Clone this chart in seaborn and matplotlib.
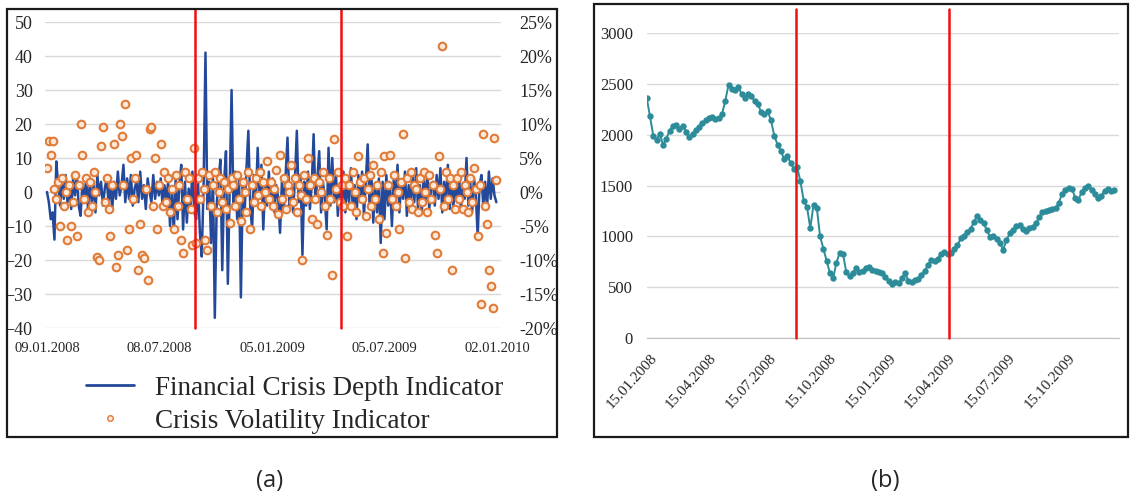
import matplotlib.pyplot as plt
import matplotlib.dates as mdates
import matplotlib.patches as patches
from matplotlib.lines import Line2D
import pandas as pd
import seaborn as sns

# (a) crisis indicators, one reading every 3 days starting 09.01.2008
depth = [0, -3, -8, -6, -14, 9, 2, -4, 3, -2, 5, -3, 1, -5, 4, -1, 5, -4, -7, 2,
         -2, 4, -5, 3, -3, 2, -6, 5, -1, 3, -4, 1, 4, -3, 2, -5, 3, -2, 6, -1,
         2, 8, -3, 4, -2, 5, -4, 1, 3, -3, 6, -2, 2, -5, 4, 0, -3, 5, -2, 3,
         -1, 4, -4, 2, -2, 3, -10, 1, -12, 4, -8, 2, 8, -11, 3, -9, 1, -4, 6, -6,
         -8, 3, -12, -19, 2, 41, -5, 3, -15, 5, -37, -4, 4, 9.5, -23, 3, 12, -27, 2, 30,
         -5, 6, -8, 4, -31, 2, -6, 7, 18, -4, -11, 5, -3, 13, -2, 8, -11, 3, -4, 6,
         -3, 4, -6, 2, -2, -12, 3, -5, 5, 16, -4, 2, -6, 4, 18, -3, 5, -18.5, 3, -4,
         6, -5, 2, 17, -3, 4, 12, -6, 3, -2, -11, 13, -4, 10, -3, 5, -7, 2, -4, 6,
         -6, 4, -3, 7, -5, 2, -8, 5, -2, 6, -7, 3, 14, -4, 5, -9, 2, -6, 4, -15,
         3, -8, 5, -4, 2, -10, 4, -3, 8, -6, 3, -2, 6, -7, 2, -4, 5, -3, 7, -5,
         2, -6, 4, -3, 6, -5, 1, 3, -4, 5, -2, 7, -6, 3, -3, 8, -5, 2, -4, 4,
         -3, 5, -5, 2, -2, 10, -4, 3, -6, 4, -1, -13, 2, 5, -4, 3, -5, 6, -2, 4,
         -1, -3]
volatility = [3.5, 7.5, 5.5, 7.5, 0.5, -1, 1.5, -5, 2, -2, 0, -7, 1, -5, -1.5, 2.5, -6.5, 1, 10, 5.5,
              -1, 2, -3, 1.5, -2, 3, 0, -9.5, -10, 6.75, 9.5, -1.5, 2, -2.5, -6.5, 1, 7, -11, -9.25, 10,
              8.25, 1, 13, -8.5, -5.5, 5, -1, 2, 5.5, -11.5, -4.75, -9.25, -9.75, 0.5, -13, 9.25, 9.5, -2, 5, -5.5,
              1, 7, -2, 3, -1.5, 2, -3, 0.5, -5.5, 2.5, -2, 1, -7, -9, 3, -1, 2, -2.5, -7.75, 6.5,
              -7.5, 2, -1, 3, 0.5, -7, -8.5, 2.5, -2, 1, 3, -3, 0, 2, -1.5, 1.5, -2.5, 0.5, -4.5, 2,
              1, -2, 2.5, -1, -4.25, 1.5, 0, -3, 3, -5.5, 1, -1.5, 2, -0.5, 3, -2, 1.5, 0, 4.5, -1,
              1.5, -2, 0.5, 3.25, -3.25, 5.5, -1, 2, -2.5, 1, 0, 4, -1.5, 2, -3, 1, -0.5, -10, 2.5, -1,
              5, 1, -4, 2, -1, -4.75, 1.5, 0, 3, -2, -6.25, 2, -1, -12.25, 7.75, 0.5, 3, -1.5, 1, -2,
              2, -6.5, 1, -2, 3, 0, -3, 5.25, 1.5, -1, 2, -3.5, 0.5, 2.5, -2, 4, -1, 1, -4, 3,
              -9, 5.25, -6, 1, 5.5, -1, 2.5, -2, 0, -5.5, 1.5, 8.5, -9.75, 2, -1.5, 3, -2.5, 1, 0.5, -3,
              2, -1.5, 3, 0, -3, 2.5, -1, 1, -6.25, -9, 5.25, 0.5, 21.5, -2, 3, -1, 2, -11.5, 1, -2.5,
              2, -1, 3, -2.5, 1, 0, -3, 2, -1.5, 3.5, 0.5, -6.5, 1, -16.5, 8.5, -2, -4.75, -11.5, -13.75, -17,
              8, 1.75]
a_start = '2008-01-09'
a_ticks = ['2008-01-09', '2008-07-08', '2009-01-05', '2009-07-05', '2010-01-02']
a_marks = ['2008-09-03', '2009-04-26']
a_labels = ['Financial Crisis Depth Indicator', 'Crisis Volatility Indicator']

# (b) index level, one reading every 5 days starting 10.01.2008
index_level = [2360, 2180, 1990, 1950, 2010, 1900, 1960, 2040, 2090, 2100,
               2060, 2090, 2030, 1980, 2010, 2050, 2080, 2110, 2140, 2160,
               2170, 2150, 2160, 2200, 2330, 2490, 2450, 2440, 2470, 2400,
               2360, 2400, 2380, 2330, 2300, 2220, 2200, 2230, 2140, 1990,
               1900, 1840, 1760, 1790, 1720, 1660, 1680, 1540, 1350, 1290,
               1080, 1310, 1280, 1000, 880, 760, 640, 590, 740, 840,
               830, 650, 610, 640, 690, 650, 660, 690, 700, 670,
               660, 650, 640, 600, 560, 530, 550, 540, 590, 640,
               560, 550, 570, 580, 620, 660, 720, 770, 760, 780,
               830, 850, 830, 840, 880, 910, 980, 1000, 1040, 1070,
               1140, 1200, 1160, 1130, 1060, 990, 1000, 970, 930, 870,
               960, 1030, 1060, 1100, 1110, 1070, 1050, 1080, 1090, 1130,
               1190, 1240, 1250, 1260, 1270, 1280, 1330, 1420, 1460, 1480,
               1470, 1380, 1360, 1440, 1480, 1500, 1460, 1420, 1380, 1400,
               1450, 1470, 1450, 1460]
b_start = '2008-01-10'
b_ticks = ['2008-01-15', '2008-04-15', '2008-07-15', '2008-10-15',
           '2009-01-15', '2009-04-15', '2009-07-15', '2009-10-15']
b_marks = ['2008-08-25', '2009-04-16']

BLUE = '#24499A'
ORANGE = '#E07B39'
TEAL = '#2C8C99'
RED = '#F01010'
GRID = '#D9D9D9'

sns.set_style('white')
plt.rcParams['font.family'] = ['Liberation Serif', 'DejaVu Serif']

W, H = 1131, 498


def px_rect(l, t, r, b):
    return [l / W, 1 - b / H, (r - l) / W, (b - t) / H]


df_a = pd.DataFrame({'date': pd.date_range(a_start, periods=len(depth), freq='3D'),
                     'depth': depth, 'vol': volatility})
df_b = pd.DataFrame({'date': pd.date_range(b_start, periods=len(index_level), freq='5D'),
                     'level': index_level})

fig = plt.figure(figsize=(W / 100, H / 100), dpi=100)

# frames around the two panels
for l, t, r, b in [(7, 9, 557, 437), (594, 4, 1128, 437)]:
    fig.add_artist(patches.Rectangle((l / W, 1 - b / H), (r - l) / W, (b - t) / H,
                                     transform=fig.transFigure, fill=False,
                                     edgecolor='#1a1a1a', lw=1.6))

# ---- panel (a)
ax = fig.add_axes(px_rect(45, 22, 501, 328))
sns.lineplot(data=df_a, x='date', y='depth', color=BLUE, lw=1.8, ax=ax)
ax.set_ylim(-40, 50)
ax.set_yticks(range(-40, 51, 10))
t0 = pd.Timestamp(a_start)
ax.set_xlim(t0 - pd.Timedelta(days=3.2), t0 + pd.Timedelta(days=730.5))
ax.set_xticks(pd.to_datetime(a_ticks))
ax.xaxis.set_major_formatter(mdates.DateFormatter('%d.%m.%Y'))
ax.grid(axis='y', color=GRID, lw=1)
ax.set_axisbelow(True)
ax.tick_params(axis='y', length=0, pad=9, labelsize=13)
ax.tick_params(axis='x', length=0, pad=10, labelsize=10.5)
ax.set_xlabel('')
ax.set_ylabel('')
for s in ax.spines.values():
    s.set_visible(False)

ax2 = ax.twinx()
sns.scatterplot(data=df_a, x='date', y='vol', s=30, color='#FCE8D8',
                edgecolor=ORANGE, linewidth=1.5, ax=ax2, zorder=3)
ax2.set_ylim(-20, 25)
ax2.set_yticks(range(-20, 26, 5))
ax2.set_yticklabels([f'{v}%' for v in range(-20, 26, 5)])
ax2.tick_params(axis='y', length=0, pad=13, labelsize=13)
ax2.set_ylabel('')
for s in ax2.spines.values():
    s.set_visible(False)
for d in a_marks:
    ax2.axvline(pd.Timestamp(d), ymin=0, ymax=(328 - 9) / 306, color=RED,
                lw=1.8, clip_on=False, zorder=5)

handles = [Line2D([0], [0], color=BLUE, lw=2),
           Line2D([0], [0], marker='o', ls='none', markersize=4,
                  markerfacecolor='#FCE8D8', markeredgecolor=ORANGE, markeredgewidth=1)]
fig.legend(handles, a_labels, loc='upper left', bbox_to_anchor=(72 / W, 1 - 362 / H),
           frameon=False, fontsize=19.5, handlelength=1.8, handletextpad=0.75,
           labelspacing=0.3, borderpad=0)

# ---- panel (b)
bx = fig.add_axes(px_rect(647, 33, 1119, 338))
sns.lineplot(data=df_b, x='date', y='level', color=TEAL, lw=1.4, marker='o',
             markersize=4.6, markeredgewidth=0, ax=bx)
bx.set_ylim(0, 3000)
bx.set_yticks(range(0, 3001, 500))
b0 = pd.Timestamp('2008-01-15')
bx.set_xlim(b0 - pd.Timedelta(days=4.6), b0 + pd.Timedelta(days=717))
bx.set_xticks(pd.to_datetime(b_ticks))
bx.xaxis.set_major_formatter(mdates.DateFormatter('%d.%m.%Y'))
bx.grid(axis='y', color=GRID, lw=1)
bx.set_axisbelow(True)
bx.tick_params(axis='y', length=0, pad=10, labelsize=12)
bx.tick_params(axis='x', length=5, width=1, color='#BFBFBF', pad=5, labelsize=11)
plt.setp(bx.get_xticklabels(), rotation=48, ha='right', rotation_mode='anchor')
bx.set_xlabel('')
bx.set_ylabel('')
for k, s in bx.spines.items():
    s.set_visible(k == 'bottom')
bx.spines['bottom'].set_color('#BFBFBF')
for d in b_marks:
    bx.axvline(pd.Timestamp(d), ymin=0, ymax=(338 - 9) / 305, color=RED,
               lw=1.8, clip_on=False, zorder=5)

fig.text(270 / W, 1 - 481 / H, '(a)', ha='center', va='center', fontsize=17,
         family=['Open Sans', 'DejaVu Sans'])
fig.text(885 / W, 1 - 481 / H, '(b)', ha='center', va='center', fontsize=17,
         family=['Open Sans', 'DejaVu Sans'])

fig.savefig('out.png', dpi=100)
